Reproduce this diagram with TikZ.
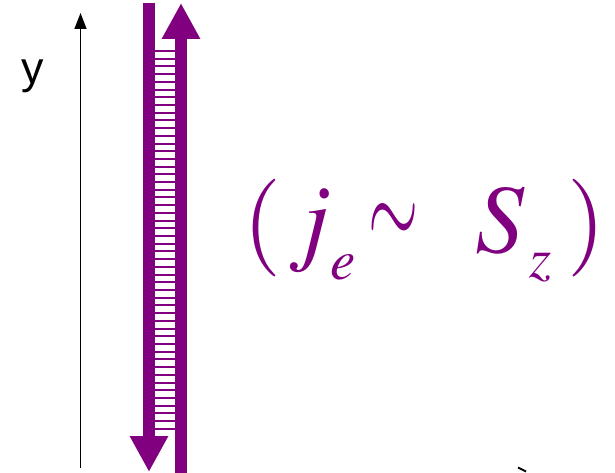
\documentclass[tikz,border=0pt]{standalone}
\usepackage{mathptmx}
\usepackage{fontspec}
\newfontfamily\labelsans{Liberation Sans}
\usetikzlibrary{arrows.meta}
\definecolor{spinpurple}{HTML}{800080}
\DeclareMathSizes{98}{98}{57}{45}

\begin{document}
\begin{tikzpicture}[x=1bp, y=-1bp,
    bar/.style={draw=spinpurple, line width=12bp, -{Triangle[width=36bp,length=36bp]}},
    rung/.style={draw=spinpurple, line width=2bp},
    axis/.style={draw=black, line width=1.5bp, -{Triangle[width=12bp,length=16bp]}}
]
    \useasboundingbox (0,0) rectangle (615,473);

    % y axis
    \coordinate (ybot) at (80.5,468);
    \coordinate (ytop) at (80.5,13);
    \draw[axis] (ybot) -- (ytop);
    \node[font=\labelsans\fontsize{45}{48}\selectfont, anchor=base, inner sep=0] (ylab) at (32.5,84) {y};

    % ladder between the two currents
    \foreach \k in {0,...,49}
        \draw[rung] (155,51+7.71*\k) -- (175,51+7.71*\k);

    % down and up currents
    \coordinate (downstart) at (149,3);
    \coordinate (downend) at (149,472);
    \coordinate (upstart) at (181,473);
    \coordinate (upend) at (181,3);
    \draw[bar] (downstart) -- (downend);
    \draw[bar] (upstart) -- (upend);

    % label
    \node[text=spinpurple, font=\fontsize{98}{100}\selectfont, anchor=base west, inner sep=0] (jlab) at (243.3,253)
        {$(\hspace{6.7bp}j\hspace{-2bp}\raisebox{-27bp}{$\scriptstyle e$}\hspace{13.4bp}\raisebox{6bp}{\scalebox{0.66}[1.2]{$\sim$}}\hspace{56.6bp}S\hspace{4bp}\raisebox{-25bp}{$\scriptstyle z$}\hspace{16bp})$};

    % clipped tip at the lower right
    \coordinate (cutA) at (518,467.5);
    \coordinate (cutB) at (526,471.5);
    \draw[line width=2bp] (cutA) -- (cutB);
\end{tikzpicture}
\end{document}
